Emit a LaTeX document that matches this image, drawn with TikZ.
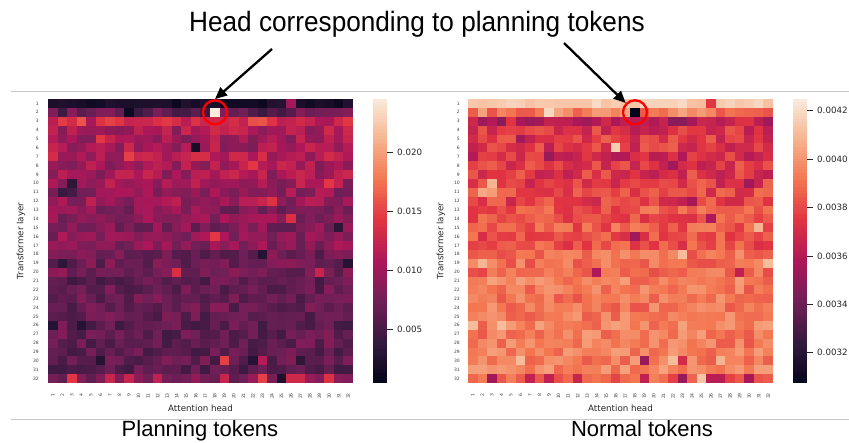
\documentclass[tikz,border=0pt]{standalone}
\usepackage{fontspec}
\setmainfont{Liberation Sans}
\newfontfamily\dvs{DejaVu Sans}
\usetikzlibrary{arrows.meta}

\newcommand\rocketset[2]{%
  \pgfmathsetmacro\rkv{max(0,min(0.99999,#1))}%
  \pgfmathtruncatemacro\rkk{floor(\rkv*7)}%
  \pgfmathsetmacro\rkt{\rkv*7-\rkk}%
  \pgfmathtruncatemacro\rkR{round({3,53,112,173,225,243,246,250}[\rkk]*(1-\rkt)+{53,112,173,225,243,246,250,250}[\rkk]*\rkt)}%
  \pgfmathtruncatemacro\rkG{round({5,25,31,23,51,118,180,235}[\rkk]*(1-\rkt)+{25,31,23,51,118,180,235,235}[\rkk]*\rkt)}%
  \pgfmathtruncatemacro\rkB{round({26,62,87,89,66,81,143,221}[\rkk]*(1-\rkt)+{62,87,89,66,81,143,221,221}[\rkk]*\rkt)}%
  \definecolor{#2}{RGB}{\rkR,\rkG,\rkB}}

\newcommand\setov[3]{\expandafter\def\csname ov-#1-#2\endcsname{#3}}
\setov{2}{18}{1.0}
\setov{2}{9}{0.03}
\setov{6}{16}{0.06}
\setov{1}{26}{0.40}
\setov{3}{4}{0.64}\setov{3}{22}{0.63}\setov{3}{23}{0.64}\setov{3}{7}{0.6}
\setov{5}{6}{0.58}
\setov{7}{9}{0.6}
\setov{8}{22}{0.58}
\setov{10}{30}{0.58}\setov{10}{3}{0.12}
\setov{11}{2}{0.15}\setov{11}{3}{0.18}
\setov{12}{24}{0.56}\setov{12}{23}{0.5}
\setov{14}{26}{0.55}
\setov{15}{31}{0.12}
\setov{16}{18}{0.58}
\setov{18}{23}{0.1}
\setov{19}{32}{0.1}\setov{19}{2}{0.12}
\setov{20}{14}{0.55}\setov{20}{29}{0.5}
\setov{26}{1}{0.1}\setov{26}{4}{0.1}
\setov{30}{19}{0.6}\setov{30}{23}{0.45}\setov{30}{6}{0.1}\setov{30}{22}{0.1}\setov{30}{27}{0.12}
\setov{32}{3}{0.58}\setov{32}{7}{0.5}\setov{32}{9}{0.5}\setov{32}{12}{0.48}
\setov{32}{19}{0.5}\setov{32}{23}{0.6}\setov{32}{26}{0.52}\setov{32}{27}{0.52}
\setov{32}{30}{0.56}\setov{32}{25}{0.08}

\begin{document}
\begin{tikzpicture}[x=1pt,y=-1pt,
  ticklab/.style={font=\dvs\fontsize{8.7}{9}\selectfont, text=black!85, inner sep=0pt},
  tinylab/.style={font=\dvs\fontsize{4.5}{5}\selectfont, text=black!75, inner sep=0pt},
  axlab/.style={font=\dvs\fontsize{8.7}{9}\selectfont, text=black!85, inner sep=0pt},
  bigarrow/.style={-{Triangle[length=12pt,width=10.5pt]}, line width=2.3pt, black},
  ring/.style={circle, draw=red, line width=2.3pt, minimum size=24pt, inner sep=0pt},
  sepline/.style={draw=black!22, line width=0.9pt}]
\useasboundingbox (0,0) rectangle (849,442);
\fill[white] (0,0) rectangle (849,442);

% separator lines
\draw[sepline] (11,91) -- (849,91);
\draw[sepline] (11,419) -- (849,419);

% heatmaps
\pgfmathsetseed{4242}
\foreach \r in {1,...,32}{
  \pgfmathsetmacro\mu{{0.06,0.25,0.50,0.43,0.41,0.41,0.45,0.41,0.41,0.40,0.37,0.39,0.33,0.34,0.32,0.35,0.35,0.28,0.28,0.30,0.24,0.26,0.27,0.26,0.25,0.24,0.25,0.26,0.24,0.25,0.23,0.31}[\r-1]}
  \pgfmathsetmacro\sd{{0.04,0.10,0.09,0.10,0.10,0.10,0.10,0.10,0.10,0.10,0.10,0.10,0.09,0.09,0.09,0.09,0.09,0.08,0.08,0.08,0.08,0.08,0.08,0.08,0.08,0.08,0.08,0.08,0.08,0.08,0.07,0.08}[\r-1]}
  \pgfmathsetmacro\ya{99+(\r-1)*8.875}
  \foreach \c in {1,...,32}{
    \pgfmathsetmacro\v{\mu+\sd*rand}
    \ifcsname ov-\r-\c\endcsname \edef\v{\csname ov-\r-\c\endcsname}\fi
    \rocketset{\v}{lc}
    \rocketset{0.98-\v}{rc}
    \pgfmathsetmacro\xa{48+(\c-1)*9.53}
    \pgfmathsetmacro\xb{\xa+420}
    \fill[lc] (\xa,\ya) rectangle ++(9.8,9.15);
    \fill[rc] (\xb,\ya) rectangle ++(9.8,9.15);
  }
}

% colorbars
\foreach \i in {0,...,99}{
  \rocketset{(\i+0.5)/100}{cb}
  \pgfmathsetmacro\yb{383-\i*2.84}
  \pgfmathsetmacro\yt{383-(\i+1)*2.84-0.3}
  \fill[cb] (372.5,\yb) rectangle (387,\yt);
  \fill[cb] (792.5,\yb) rectangle (807,\yt);
}

% left colorbar ticks
\foreach \lab/\yy [count=\k] in {0.020/152,0.015/211,0.010/270,0.005/329}{
  \draw[black!85, line width=0.7pt] (387,\yy) -- (393,\yy);
  \node[ticklab, anchor=west] (lt\k) at (397,\yy) {\lab};
}
% right colorbar ticks
\foreach \lab/\yy [count=\k] in {0.0042/110.5,0.0040/159,0.0038/207.5,0.0036/256,0.0034/304,0.0032/352}{
  \draw[black!85, line width=0.7pt] (807,\yy) -- (813,\yy);
  \node[ticklab, anchor=west] (rt\k) at (817,\yy) {\lab};
}

% row and column tick labels
\foreach \r in {1,...,32}{
  \pgfmathsetmacro\yc{99+(\r-0.5)*8.875}
  \node[tinylab, anchor=east] (ly\r) at (39,\yc) {\r};
  \node[tinylab, anchor=east] (ry\r) at (460,\yc) {\r};
  \pgfmathsetmacro\xc{48+(\r-0.5)*9.53}
  \pgfmathsetmacro\xd{\xc+420}
  \node[tinylab, rotate=90, anchor=east] (lx\r) at (\xc,393) {\r};
  \node[tinylab, rotate=90, anchor=east] (rx\r) at (\xd,393) {\r};
}

% axis labels
\node[axlab, rotate=90] (lyl) at (21,241) {Transformer layer};
\node[axlab, rotate=90] (ryl) at (441,241) {Transformer layer};
\node[axlab] (lxl) at (200.5,408) {Attention head};
\node[axlab] (rxl) at (620.5,408) {Attention head};

% highlight rings
\node[ring] (c1) at (215,112.3) {};
\node[ring] (c2) at (635,112.3) {};

% title and arrows
\node[font=\fontsize{28}{30}\selectfont, anchor=base, inner sep=0pt] (title) at (417,31)
  {\scalebox{0.935}[1]{Head corresponding to planning tokens}};
\coordinate (a1s) at (272,49);
\coordinate (a2s) at (564,43);
\draw[bigarrow] (a1s) -- (c1.north);
\draw[bigarrow] (a2s) -- (c2.north west);

% bottom captions
\node[font=\fontsize{22}{24}\selectfont, anchor=base, inner sep=0pt] (cap1) at (200,436) {Planning tokens};
\node[font=\fontsize{22}{24}\selectfont, anchor=base, inner sep=0pt] (cap2) at (642,436) {Normal tokens};
\end{tikzpicture}
\end{document}
